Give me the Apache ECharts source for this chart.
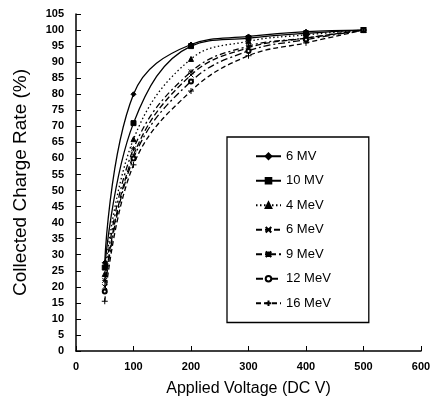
<!DOCTYPE html>
<html><head><meta charset="utf-8">
<script src="https://cdn.jsdelivr.net/npm/echarts@6/dist/echarts.min.js"></script>
<style>html,body{margin:0;padding:0;background:#fff}#c{width:435px;height:410px}</style>
</head><body><div id="c"></div>
<script>
var voltages = [50, 100, 200, 300, 400, 500];
var mv6   = [27.5, 80, 95.5, 98, 99.5, 100];
var mv10  = [26, 71, 95, 97.5, 99, 100];
var mev4  = [24, 66, 91, 96.5, 98.5, 100];
var mev6  = [20, 61, 86, 94.5, 97.5, 100];
var mev9  = [22, 63, 87, 95, 97.5, 100];
var mev12 = [18.5, 60, 84, 93.5, 97, 100];
var mev16 = [15.5, 58, 81, 92, 96, 100];
var seriesNames = ['6 MV', '10 MV', '4 MeV', '6 MeV', '9 MeV', '12 MeV', '16 MeV'];

var seriesValues = [mv6, mv10, mev4, mev6, mev9, mev12, mev16];
var symbols = ['diamond', 'rect', 'triangle',
  'path://M0,0L10,10M10,0L0,10',
  'path://M0,0L10,10M10,0L0,10M5,0L5,10M0,5L10,5',
  'emptyCircle',
  'path://M5,0L5,10M0,5L10,5'];
var sizes = [5, 5, 5, 5, 5, 4, 6];
var dashes = ['solid', 'solid', [1.5, 2.5], [6, 3], [6, 3, 2, 3], [7, 3, 2, 3], [5, 3]];

var chart = echarts.init(document.getElementById('c'), null, {renderer: 'canvas'});
var series = seriesNames.map(function (n, i) {
  return {
    name: n, type: 'line', smooth: 0.4,
    data: voltages.map(function (v, j) { return [v, seriesValues[i][j]]; }),
    symbol: symbols[i], symbolSize: sizes[i],
    itemStyle: {color: '#000', borderColor: '#000', borderWidth: 1},
    lineStyle: {color: '#000', width: 1.3, type: dashes[i]}
  };
});
chart.setOption({
  animation: false,
  backgroundColor: '#fff',
  textStyle: {fontFamily: 'Liberation Sans, Arial, sans-serif'},
  grid: {left: 76, right: 14, top: 14, bottom: 59},
  legend: {
    orient: 'vertical', left: 227, top: 137,
    data: seriesNames,
    itemWidth: 25, itemHeight: 7, itemGap: 10,
    padding: [12, 38, 12, 28],
    borderColor: '#000', borderWidth: 1.3,
    textStyle: {fontSize: 13, color: '#000', fontFamily: 'Liberation Sans, Arial, sans-serif', lineHeight: 14.5}
  },
  xAxis: {
    type: 'value', min: 0, max: 600, interval: 100,
    name: 'Applied Voltage (DC V)', nameLocation: 'middle', nameGap: 30,
    nameTextStyle: {fontSize: 16, color: '#000'},
    axisLine: {lineStyle: {color: '#000', width: 1.5}},
    axisTick: {inside: true, length: 5, lineStyle: {color: '#000'}},
    axisLabel: {fontSize: 11, fontWeight: 'bold', color: '#000', margin: 10},
    splitLine: {show: false}
  },
  yAxis: {
    type: 'value', min: 0, max: 105, interval: 5,
    name: 'Collected Charge Rate (%)', nameLocation: 'middle', nameGap: 46,
    nameTextStyle: {fontSize: 19, color: '#000'},
    axisLine: {show: true, lineStyle: {color: '#000', width: 1.5}},
    axisTick: {show: true, inside: true, length: 5, lineStyle: {color: '#000'}},
    axisLabel: {fontSize: 11, fontWeight: 'bold', color: '#000', margin: 12},
    splitLine: {show: false}
  },
  series: series
});
</script></body></html>
